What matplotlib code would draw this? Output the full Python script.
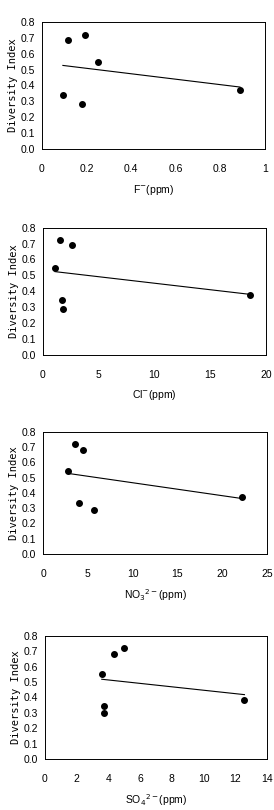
import matplotlib
matplotlib.use("Agg")
import matplotlib.pyplot as plt

plt.rcParams["font.family"] = ["Liberation Sans", "DejaVu Sans"]

# y values (Diversity Index) per panel
f_x = [0.094, 0.117, 0.195, 0.180, 0.250, 0.888]
f_y = [0.338, 0.684, 0.716, 0.285, 0.549, 0.374]
f_fit_x = [0.094, 0.888]
f_fit_y = [0.526, 0.390]

cl_x = [1.11, 1.59, 2.61, 1.71, 1.80, 18.6]
cl_y = [0.549, 0.722, 0.688, 0.344, 0.291, 0.376]
cl_fit_x = [1.11, 18.6]
cl_fit_y = [0.523, 0.380]

no3_x = [2.84, 3.62, 4.51, 3.96, 5.67, 22.2]
no3_y = [0.542, 0.719, 0.682, 0.337, 0.286, 0.376]
no3_fit_x = [2.84, 22.2]
no3_fit_y = [0.527, 0.363]

so4_x = [3.58, 4.34, 4.95, 3.75, 3.75, 12.57]
so4_y = [0.551, 0.685, 0.720, 0.345, 0.297, 0.384]
so4_fit_x = [3.58, 12.57]
so4_fit_y = [0.518, 0.418]

y_ticks = [0.0, 0.1, 0.2, 0.3, 0.4, 0.5, 0.6, 0.7, 0.8]

panels = [
    (f_x, f_y, f_fit_x, f_fit_y, 1.0, [0, 0.2, 0.4, 0.6, 0.8, 1.0],
     ["0", "0.2", "0.4", "0.6", "0.8", "1"], r"F$^{-}$(ppm)",
     [0.153, 0.816, 0.814, 0.157]),
    (cl_x, cl_y, cl_fit_x, cl_fit_y, 20, [0, 5, 10, 15, 20],
     ["0", "5", "10", "15", "20"], r"Cl$^{-}$(ppm)",
     [0.156, 0.562, 0.814, 0.157]),
    (no3_x, no3_y, no3_fit_x, no3_fit_y, 25, [0, 5, 10, 15, 20, 25],
     ["0", "5", "10", "15", "20", "25"], r"NO$_3$$^{2-}$(ppm)",
     [0.157, 0.316, 0.818, 0.151]),
    (so4_x, so4_y, so4_fit_x, so4_fit_y, 14, [0, 2, 4, 6, 8, 10, 12, 14],
     ["0", "2", "4", "6", "8", "10", "12", "14"], r"SO$_4$$^{2-}$(ppm)",
     [0.164, 0.063, 0.811, 0.152]),
]

fig = plt.figure(figsize=(2.74, 8.10), dpi=100)

for xs, ys, lx, ly, xmax, xt, xtl, xlab, rect in panels:
    ax = fig.add_axes(rect)
    ax.plot(lx, ly, color="black", linewidth=0.8)
    ax.plot(xs, ys, "o", color="black", markersize=4.0)
    ax.set_xlim(0, xmax)
    ax.set_ylim(0, 0.8)
    ax.set_xticks(xt)
    ax.set_xticklabels(xtl)
    ax.set_yticks(y_ticks)
    ax.set_yticklabels(["%.1f" % v for v in y_ticks])
    ax.tick_params(length=0, labelsize=7.5)
    ax.tick_params(axis="y", pad=5)
    ax.tick_params(axis="x", pad=11)
    for s in ax.spines.values():
        s.set_linewidth(0.7)
    ax.set_xlabel(xlab, fontsize=7.5, labelpad=6)
    ax.set_ylabel("Diversity Index", fontsize=7.5, family="DejaVu Sans Mono", labelpad=2)

fig.savefig("out.png", dpi=100)
